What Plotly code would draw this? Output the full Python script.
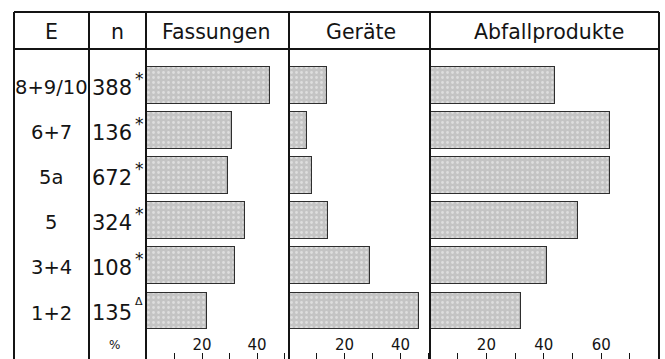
import plotly.graph_objects as go

# Layer groups (E), sample sizes (n) and significance marks
E = ["8+9/10", "6+7", "5a", "5", "3+4", "1+2"]
n = [388, 136, 672, 324, 108, 135]
marks = ["*", "*", "*", "*", "*", "\u0394"]

# Percentages per category
fassungen = [44.7, 30.9, 29.5, 35.6, 32.0, 21.8]
geraete = [13.8, 6.6, 8.4, 14.1, 29.1, 46.6]
abfall = [43.9, 63.0, 63.0, 51.9, 41.1, 32.0]

titles = ["Fassungen", "Geräte", "Abfallprodukte"]
tick_labels = [[20, 40], [20, 40], [20, 40, 60]]

W, H = 665, 359
FONT = "DejaVu Sans"
INK = "#141414"


def fx(p):
    return p / W


def fy(p):
    return 1 - p / H


# panel geometry in pixels: left edge, right edge, zero position, px per percent
panels = [
    (146, 289, 147.0, 2.75),
    (289, 430, 288.5, 2.80),
    (430, 659, 429.0, 2.87),
]

# vertical placement of the rows (pixels)
row0, pitch = 85.5, 45.1
y_range = [(H - row0) / pitch, (0 - row0) / pitch]

fig = go.Figure()
series = [fassungen, geraete, abfall]
for i, (vals, (left, right, zero, s)) in enumerate(zip(series, panels)):
    ax = "x" if i == 0 else f"x{i + 1}"
    fig.add_trace(go.Bar(
        x=vals, y=list(range(len(E))), orientation="h",
        xaxis=ax, yaxis="y", width=0.82,
        marker=dict(
            color="#c4c4c4",
            line=dict(color="#2e2e2e", width=1.1),
            pattern=dict(shape=".", fillmode="replace", bgcolor="#c4c4c4",
                         fgcolor="#dedede", size=5, solidity=0.25),
        ),
        showlegend=False, hoverinfo="skip",
    ))
    key = "xaxis" if i == 0 else f"xaxis{i + 1}"
    fig.layout[key] = dict(
        domain=[fx(left), fx(right)],
        range=[(left - zero) / s, (right - zero) / s],
        anchor="y", showgrid=False, zeroline=False, showline=False,
        ticks="inside", ticklen=6, tickwidth=1.2, tickcolor=INK,
        tickvals=tick_labels[i], ticklabelposition="inside",
        tickfont=dict(family=FONT, size=15, color=INK),
        minor=dict(dtick=10, tick0=0, ticks="inside", ticklen=6,
                   tickwidth=1.2, tickcolor=INK, showgrid=False),
        fixedrange=True,
    )

fig.update_layout(
    width=W, height=H, margin=dict(l=0, r=0, t=0, b=0),
    paper_bgcolor="white", plot_bgcolor="rgba(0,0,0,0)",
    bargap=0,
    yaxis=dict(domain=[0, 1], range=y_range, visible=False, fixedrange=True),
)

# table rules
shapes = []
lw = 2
for x in [14, 89, 146, 289, 430, 659]:
    shapes.append(dict(type="line", xref="paper", yref="paper",
                       x0=fx(x), x1=fx(x), y0=fy(12), y1=fy(H + 2),
                       line=dict(color=INK, width=lw)))
for y in [12, 49]:
    shapes.append(dict(type="line", xref="paper", yref="paper",
                       x0=fx(14), x1=fx(659), y0=fy(y), y1=fy(y),
                       line=dict(color=INK, width=lw)))
fig.update_layout(shapes=shapes)

ann = []
# header row
for txt, cx in [("E", 51), ("n", 117), (titles[0], 216), (titles[1], 361), (titles[2], 549)]:
    ann.append(dict(text=txt, x=fx(cx), y=fy(32), xref="paper", yref="paper",
                    showarrow=False, xanchor="center", yanchor="middle",
                    font=dict(family=FONT, size=20.5, color=INK)))
# row labels
for k, (e, nn, m) in enumerate(zip(E, n, marks)):
    ann.append(dict(text=e, x=fx(51), y=k, xref="paper", yref="y",
                    showarrow=False, xanchor="center", yanchor="middle", yshift=-2,
                    font=dict(family=FONT, size=19.5, color=INK)))
    ann.append(dict(text=str(nn), x=fx(90), y=k, xref="paper", yref="y",
                    showarrow=False, xanchor="left", yanchor="middle", yshift=-2,
                    font=dict(family=FONT, size=21, color=INK)))
    ann.append(dict(text=m, x=fx(139), y=k, xref="paper", yref="y",
                    showarrow=False, xanchor="center", yanchor="middle",
                    yshift=7 if m == "*" else 10,
                    font=dict(family=FONT, size=17 if m == "*" else 11, color=INK)))
ann.append(dict(text="%", x=fx(114), y=fy(345), xref="paper", yref="paper",
                showarrow=False, xanchor="center", yanchor="middle",
                font=dict(family=FONT, size=12, color=INK)))
fig.update_layout(annotations=ann)

fig.write_html("out.html", config={"displayModeBar": False})
